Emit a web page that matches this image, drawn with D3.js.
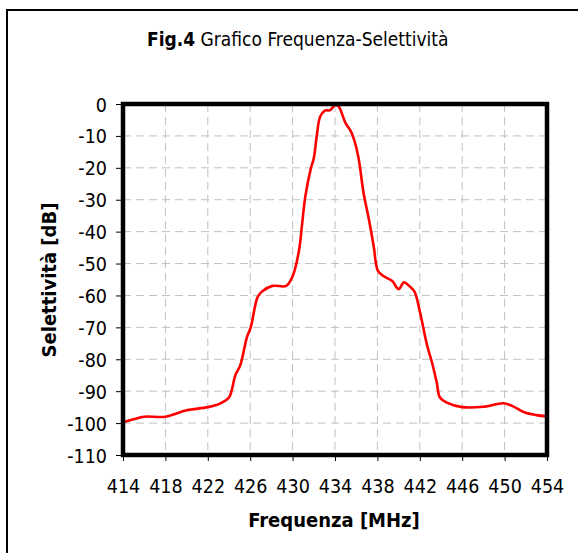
<!DOCTYPE html>
<html><head><meta charset="utf-8">
<script src="https://cdn.jsdelivr.net/npm/d3@7/dist/d3.min.js"></script>
<style>html,body{margin:0;padding:0;background:#fff;}svg{display:block;}</style>
</head><body>
<script>
const freq = [414,415,416,418,420,422,423.2,424,424.6,425.05,425.7,426.05,426.7,427.1,428.1,429.4,430,430.6,430.9,431.2,431.7,432,432.3,432.6,433.1,433.5,434.05,434.35,435,435.5,435.9,436.25,436.7,437.2,437.65,438.05,438.6,439.4,440,440.5,441,441.5,442,442.7,443.15,443.6,443.9,444.5,446,448,449.9,450.7,451.9,453,454];
const sel = [-99.7,-98.8,-98,-98,-96,-95,-93.8,-92,-85,-82,-73,-70,-60.5,-58.8,-57,-57,-54,-46,-37.5,-29,-20.5,-17,-9.5,-4,-2,-2,-0.3,-0.8,-6,-8.6,-12.3,-17.5,-28,-36.2,-44.6,-52.3,-54,-55.5,-58,-55.9,-57,-58.8,-65,-75.8,-81,-87.3,-92,-93.5,-95,-94.9,-93.8,-94.6,-96.7,-97.5,-97.9];
const xTicks = [414,418,422,426,430,434,438,442,446,450,454];
const yTicks = [0,-10,-20,-30,-40,-50,-60,-70,-80,-90,-100,-110];
const titleBold = "Fig.4";
const titleRest = " Grafico Frequenza-Selettività";
const xLabel = "Frequenza [MHz]";
const yLabel = "Selettività [dB]";

const W = 578, H = 553;
const FONT = "'DejaVu Sans Condensed', 'DejaVu Sans', Verdana, sans-serif";
const svg = d3.select("body").append("svg").attr("width", W).attr("height", H);

// outer frame (cropped on right/bottom)
svg.append("rect").attr("x", 7).attr("y", 10).attr("width", W + 20).attr("height", H + 20)
  .attr("fill", "none").attr("stroke", "#000").attr("stroke-width", 2);

const x = d3.scaleLinear().domain([414, 454]).range([123, 547]);
const y = d3.scaleLinear().domain([-110, 0]).range([455, 104]);

// grid
const g = svg.append("g");
g.selectAll("line.vg").data(xTicks.slice(1, -1)).join("line")
  .attr("x1", d => x(d)).attr("x2", d => x(d)).attr("y1", y(0)).attr("y2", y(-110))
  .attr("stroke", "#c0c0c0").attr("stroke-width", 1).attr("stroke-dasharray", "8,5");
g.selectAll("line.hg").data(yTicks.slice(1, -1)).join("line")
  .attr("y1", d => y(d)).attr("y2", d => y(d)).attr("x1", x(414)).attr("x2", x(454))
  .attr("stroke", "#c0c0c0").attr("stroke-width", 1).attr("stroke-dasharray", "8,5");

// axes
const fmt = d => String(d);
const xAxis = d3.axisBottom(x).tickValues(xTicks).tickSize(6).tickPadding(18).tickFormat(fmt);
const yAxis = d3.axisLeft(y).tickValues(yTicks).tickSize(7).tickPadding(9).tickFormat(fmt);
const gx = svg.append("g").attr("transform", `translate(0,${y(-110)})`).call(xAxis);
const gy = svg.append("g").attr("transform", `translate(${x(414)},0)`).call(yAxis);
[gx, gy].forEach(a => {
  a.select(".domain").remove();
  a.selectAll(".tick line").attr("stroke", "#000").attr("stroke-width", 1);
  a.selectAll(".tick text").attr("font-family", FONT).attr("font-size", 19.5).attr("fill", "#000");
});
gy.selectAll(".tick text").attr("dy", "0.36em");

// line
const line = d3.line().x((d, i) => x(freq[i])).y(d => y(d)).curve(d3.curveCatmullRom.alpha(0.5));
svg.append("path").datum(sel).attr("d", line).attr("fill", "none")
  .attr("stroke", "#ff0000").attr("stroke-width", 2.6).attr("stroke-linejoin", "round");

// plot frame
svg.append("rect").attr("x", x(414)).attr("y", y(0)).attr("width", x(454) - x(414)).attr("height", y(-110) - y(0))
  .attr("fill", "none").attr("stroke", "#000").attr("stroke-width", 4.5);

// title
const t = svg.append("text").attr("x", 147).attr("y", 46).attr("text-anchor", "start")
  .attr("font-family", FONT).attr("font-size", 19).attr("fill", "#000");
t.append("tspan").attr("font-weight", "bold").text(titleBold);
t.append("tspan").text(titleRest);

// axis labels
svg.append("text").attr("x", 334).attr("y", 527).attr("text-anchor", "middle")
  .attr("font-family", FONT).attr("font-size", 20).attr("font-weight", "bold").text(xLabel);
svg.append("text").attr("transform", "translate(56,280) rotate(-90)").attr("text-anchor", "middle")
  .attr("font-family", FONT).attr("font-size", 20).attr("font-weight", "bold").text(yLabel);
</script>
</body></html>
